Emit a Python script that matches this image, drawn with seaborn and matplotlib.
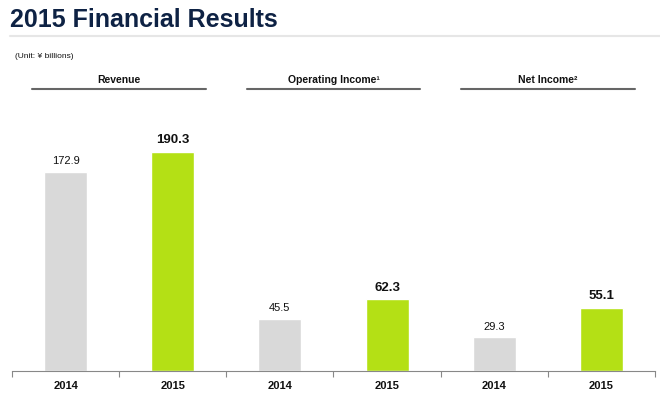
import matplotlib
matplotlib.use("Agg")
import matplotlib.pyplot as plt
import matplotlib.transforms as mtransforms
import seaborn as sns
import pandas as pd

groups = ["Revenue", "Operating Income\u00b9", "Net Income\u00b2"]
years = ["2014", "2015"]
revenue = [172.9, 190.3]
operating_income = [45.5, 62.3]
net_income = [29.3, 55.1]

values = revenue + operating_income + net_income
labels = [f"{g}|{y}" for g in groups for y in years]
df = pd.DataFrame({"bar": labels, "value": values,
                   "year": [y for g in groups for y in years]})

sns.set_theme(style="white")
plt.rcParams["font.family"] = ["Liberation Sans", "DejaVu Sans"]

fig = plt.figure(figsize=(6.6, 3.95), dpi=100)
ax = fig.add_axes([12/660, 24/395, (655-12)/660, (371-100)/395])

gray = "#d9d9d9"
green = "#b4e015"
pal = {lab: (gray if lab.endswith("2014") else green) for lab in labels}
sns.barplot(data=df, x="bar", y="value", hue="bar", palette=pal, order=labels,
            width=0.4, legend=False, ax=ax, saturation=1)

ax.set_ylim(0, 271/1.151)
ax.set_xlim(-0.5, len(labels) - 0.5)
ax.set_xlabel("")
ax.set_ylabel("")
ax.set_yticks([])
ax.set_xticks(range(len(labels)))
ax.set_xticklabels([l.split("|")[1] for l in labels], fontsize=8, fontweight="bold", color="#111111")
ax.tick_params(axis="x", which="major", length=0, pad=7)
ax.set_xticks([i - 0.5 for i in range(len(labels) + 1)], minor=True)
ax.tick_params(axis="x", which="minor", length=4, width=0.8, color="#888888", direction="out", bottom=True)
for s in ["top", "right", "left"]:
    ax.spines[s].set_visible(False)
ax.spines["bottom"].set_color("#888888")
ax.spines["bottom"].set_linewidth(0.8)

for i, (lab, v) in enumerate(zip(labels, values)):
    if lab.endswith("2014"):
        ax.text(i, v + 5, f"{v:.1f}", ha="center", va="bottom", fontsize=8, color="#111111")
    else:
        ax.text(i, v + 5, f"{v:.1f}", ha="center", va="bottom", fontsize=9.5,
                fontweight="bold", color="#111111")

trans = mtransforms.blended_transform_factory(ax.transData, fig.transFigure)
for gi, g in enumerate(groups):
    c = 2 * gi + 0.5
    ax.plot([c - 0.81, c + 0.81], [1 - 89/395] * 2, transform=trans, color="#666666",
            lw=1.5, clip_on=False)
    ax.text(c, 1 - 85/395, g, transform=trans, ha="center", va="bottom",
            fontsize=7.5, fontweight="bold", color="#111111")

fig.text(10/660, 1 - 8/395, "2015 Financial Results", ha="left", va="top",
         fontsize=18, fontweight="bold", color="#0e2244")
fig.add_artist(plt.Line2D([10/660, 1], [1 - 36/395] * 2, color="#e6e6e6", lw=1.5))
fig.text(15/660, 1 - 57/395, "(Unit: \u00a5 billions)", ha="left", va="center",
         fontsize=6, color="#111111")

fig.savefig("out.png", dpi=100)
